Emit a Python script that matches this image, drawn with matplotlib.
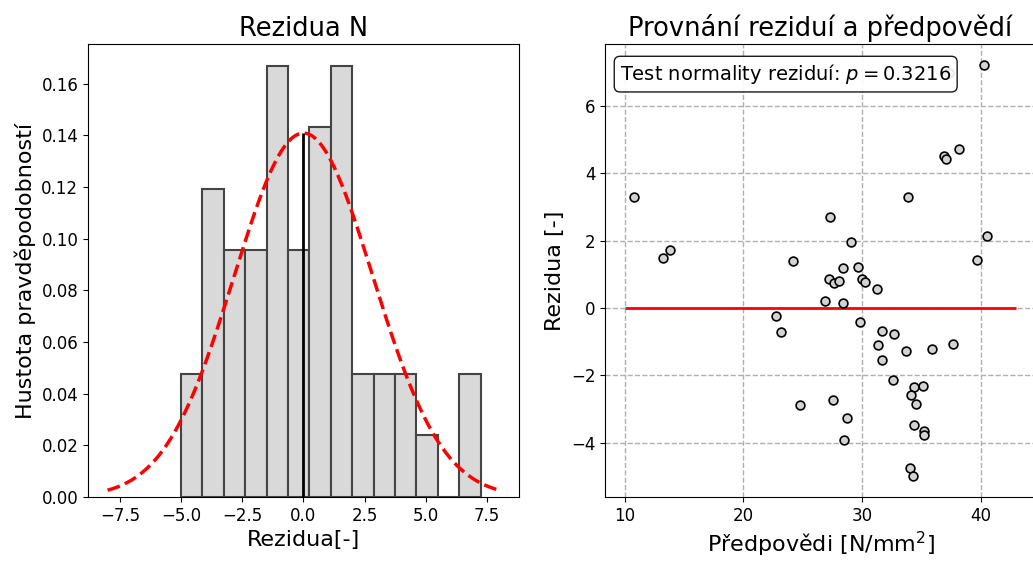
import numpy as np
import matplotlib
matplotlib.use("Agg")
from matplotlib import pyplot as plt
from matplotlib.ticker import MultipleLocator

# predicted values [N/mm2] and residuals of the model
predpovedi = [40.28, 36.90, 37.07, 38.20, 10.82, 33.86, 27.27, 29.04, 40.50, 13.80,
              13.21, 24.20, 39.69, 37.30, 28.39, 29.63, 27.21, 27.66, 28.03, 30.03,
              30.23, 31.24, 26.87, 28.39, 22.73, 23.15, 29.86, 31.72, 32.65, 31.35,
              33.69, 35.86, 37.69, 31.72, 32.62, 34.39, 35.10, 34.14, 34.51, 24.79,
              27.58, 28.73, 34.39, 35.18, 35.18, 28.51, 34.03, 34.31]
rezidua = [7.23, 4.52, 4.42, 4.73, 3.29, 3.29, 2.70, 1.95, 2.13, 1.72,
           1.49, 1.39, 1.44, 6.97, 1.18, 1.23, 0.87, 0.74, 0.79, 0.86,
           0.77, 0.56, 0.22, 0.16, -0.23, -0.70, -0.42, -0.69, -0.78, -1.11,
           -1.29, -1.23, -1.06, -1.55, -2.15, -2.33, -2.31, -2.59, -2.84, -2.89,
           -2.72, -3.27, -3.48, -3.66, -3.78, -3.93, -4.75, -5.00]
p_value = 0.3216
n_bins = 14

rez = np.array(rezidua)
mu = rez.mean()
sigma = rez.std()

fig = plt.figure(figsize=(10.33, 5.63), dpi=100)
ax1 = fig.add_axes([88 / 1033, 66 / 563, 431 / 1033, 453 / 563])
ax2 = fig.add_axes([605 / 1033, 66 / 563, 431 / 1033, 453 / 563])

# histogram of residuals + fitted normal pdf
ax1.hist(rez, bins=n_bins, density=True, facecolor="#d9d9d9",
         edgecolor="#444444", linewidth=1.5)
x = np.linspace(-8, 8, 200)
pdf = np.exp(-0.5 * ((x - mu) / sigma) ** 2) / (sigma * np.sqrt(2 * np.pi))
ax1.plot(x, pdf, "r--", linewidth=2.5)
peak = 1 / (sigma * np.sqrt(2 * np.pi))
ax1.vlines(mu, 0, peak, color="black", linewidth=2)
ax1.xaxis.set_major_locator(MultipleLocator(2.5))
ax1.set_title("Rezidua N", fontsize=18.5)
ax1.set_xlabel("Rezidua[-]", fontsize=16)
ax1.set_ylabel("Hustota pravděpodobností", fontsize=16)
ax1.tick_params(labelsize=12)

# residuals vs predictions
ax2.scatter(predpovedi, rezidua, s=40, facecolor="#d3d3d3", edgecolor="black",
            linewidth=1.2, zorder=3)
ax2.hlines(0, 10, 43, color="red", linewidth=2, zorder=2)
ax2.grid(True, linestyle="--", color="#b0b0b0", linewidth=1)
ax2.xaxis.set_major_locator(MultipleLocator(10))
ax2.set_title("Provnání reziduí a předpovědí", fontsize=18.5)
ax2.set_xlabel("Předpovědi [N/mm$^2$]", fontsize=16)
ax2.set_ylabel("Rezidua [-]", fontsize=16)
ax2.tick_params(labelsize=12)
ax2.text(0.035, 0.96, "Test normality reziduí: $p = {:.4f}$".format(p_value),
         transform=ax2.transAxes, fontsize=14, va="top", zorder=5,
         bbox=dict(boxstyle="round", facecolor="white", edgecolor="black", alpha=0.9))

fig.savefig("out.png", dpi=100)
